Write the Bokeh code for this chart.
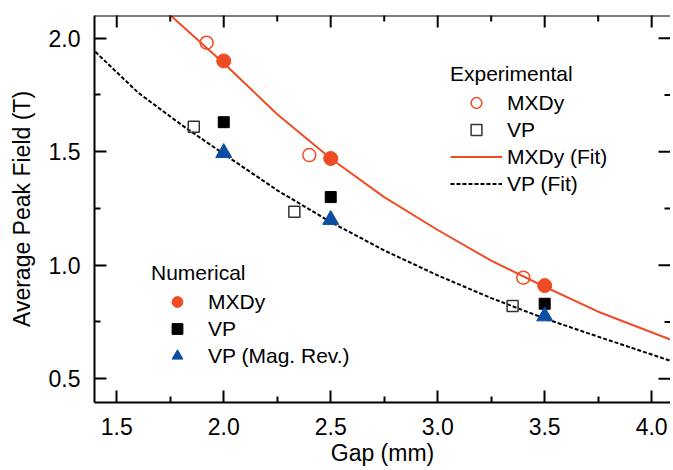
import math
from bokeh.plotting import figure
from bokeh.models import FixedTicker, PrintfTickFormatter, Range1d, Legend, LegendItem, Span
from bokeh.embed import file_html
from bokeh.resources import INLINE

# ---- data ----
exp_mxdy_gap = [1.92, 2.40, 3.40]
exp_mxdy_field = [1.98, 1.485, 0.945]
exp_vp_gap = [1.86, 2.33, 3.35]
exp_vp_field = [1.61, 1.235, 0.82]

num_gap = [2.0, 2.5, 3.5]
num_mxdy_field = [1.90, 1.47, 0.91]
num_vp_field = [1.63, 1.30, 0.83]
num_vp_rev_field = [1.495, 1.20, 0.775]

fit_mxdy_gap = [1.74, 2.0, 2.25, 2.5, 2.75, 3.0, 3.25, 3.5, 3.75, 4.1]
fit_mxdy_field = [2.11, 1.89, 1.665, 1.47, 1.30, 1.155, 1.02, 0.905, 0.795, 0.668]
fit_vp_gap = [1.4, 1.6, 1.8, 2.0, 2.25, 2.5, 2.75, 3.0, 3.25, 3.5, 3.75, 4.1]
fit_vp_field = [1.94, 1.76, 1.62, 1.49, 1.33, 1.19, 1.065, 0.955, 0.855, 0.765, 0.685, 0.575]

x_ticks = [1.5, 2.0, 2.5, 3.0, 3.5, 4.0]
x_minor = [1.75, 2.25, 2.75, 3.25, 3.75]
y_ticks = [0.5, 1.0, 1.5, 2.0]
y_minor = [0.75, 1.25, 1.75]

X_START, X_END = 1.396, 4.088
Y_START, Y_END = 0.395, 2.1

FONT = "Liberation Sans"
RED = "#EF4B24"
BLUE = "#0B4EA2"

p = figure(frame_width=576, frame_height=387, output_backend="svg", toolbar_location=None,
           x_range=Range1d(X_START, X_END), y_range=Range1d(Y_START, Y_END),
           x_axis_label="Gap (mm)", y_axis_label="Average Peak Field (T)",
           min_border_left=0, min_border_right=0, min_border_top=0, min_border_bottom=0)
p.margin = (15, 0, 0, 5)
p.outline_line_color = None
p.grid.visible = False
p.background_fill_color = "white"


def style(ax, ticks, minor):
    ax.ticker = FixedTicker(ticks=ticks, minor_ticks=minor)
    ax.axis_line_width = 2
    ax.axis_line_color = "black"
    ax.major_tick_line_width = 2
    ax.minor_tick_line_width = 2
    ax.major_tick_line_color = "black"
    ax.minor_tick_line_color = "black"
    ax.major_tick_in = 12
    ax.major_tick_out = 0
    ax.minor_tick_in = 6
    ax.minor_tick_out = 0
    ax.formatter = PrintfTickFormatter(format="%.1f")
    ax.major_label_text_font = FONT
    ax.major_label_text_color = "black"
    ax.major_label_text_font_size = "23px"
    ax.axis_label_text_font = FONT
    ax.axis_label_text_font_size = "23px"
    ax.axis_label_text_font_style = "normal"
    ax.axis_label_text_color = "black"


style(p.xaxis[0], x_ticks, x_minor)
p.xaxis[0].major_label_standoff = 15
p.xaxis[0].axis_label_standoff = 2
style(p.yaxis[0], y_ticks, y_minor)
p.yaxis[0].major_label_standoff = 14
p.yaxis[0].axis_label_standoff = 11

# top spine and inward ticks on top / right edges (clipped to the frame)
p.add_layout(Span(location=Y_END, dimension="width", line_color="black", line_width=2))
p.scatter(x_ticks, [Y_END] * len(x_ticks), marker="dash", angle=math.pi / 2, size=24,
          line_color="black", line_width=2)
p.scatter(x_minor, [Y_END] * len(x_minor), marker="dash", angle=math.pi / 2, size=12,
          line_color="black", line_width=2)
p.scatter([X_END] * len(y_ticks), y_ticks, marker="dash", size=24,
          line_color="black", line_width=2)
p.scatter([X_END] * len(y_minor), y_minor, marker="dash", size=12,
          line_color="black", line_width=2)

# fits
r_fit_m = p.line(fit_mxdy_gap, fit_mxdy_field, line_color=RED, line_width=2)
r_fit_v = p.line(fit_vp_gap, fit_vp_field, line_color="black", line_width=2, line_dash="4 2")

# experimental
r_exp_m = p.scatter(exp_mxdy_gap, exp_mxdy_field, marker="circle", size=13,
                    fill_color=None, line_color=RED, line_width=1.5)
r_exp_v = p.scatter(exp_vp_gap, exp_vp_field, marker="square", size=11,
                    fill_color=None, line_color="#333333", line_width=1.5)

# numerical
r_num_m = p.scatter(num_gap, num_mxdy_field, marker="circle", size=14,
                    fill_color=RED, line_color=RED)
r_num_v = p.scatter(num_gap, num_vp_field, marker="square", size=11,
                    fill_color="black", line_color="black")
r_num_t = p.scatter(num_gap, num_vp_rev_field, marker="triangle", size=16,
                    fill_color=BLUE, line_color=BLUE)


def make_legend(items, title, loc):
    lg = Legend(items=items, title=title, location=loc)
    lg.title_text_font = FONT
    lg.title_text_font_size = "21px"
    lg.title_text_font_style = "normal"
    lg.title_text_color = "black"
    lg.title_standoff = 3
    lg.label_text_font = FONT
    lg.label_text_font_size = "21px"
    lg.label_text_color = "black"
    lg.label_standoff = 5
    lg.glyph_width = 52
    lg.glyph_height = 27
    lg.label_height = 27
    lg.spacing = 0
    lg.padding = 0
    lg.margin = 0
    lg.border_line_color = None
    lg.background_fill_alpha = 0
    return lg


leg_exp = make_legend([
    LegendItem(label="MXDy", renderers=[r_exp_m]),
    LegendItem(label="VP", renderers=[r_exp_v]),
    LegendItem(label="MXDy (Fit)", renderers=[r_fit_m]),
    LegendItem(label="VP (Fit)", renderers=[r_fit_v]),
], "Experimental", (356, 205))
leg_num = make_legend([
    LegendItem(label="MXDy", renderers=[r_num_m]),
    LegendItem(label="VP", renderers=[r_num_v]),
    LegendItem(label="VP (Mag. Rev.)", renderers=[r_num_t]),
], "Numerical", (57, 33))
p.add_layout(leg_exp)
p.add_layout(leg_num)

open("out.html", "w").write(file_html(p, INLINE))
